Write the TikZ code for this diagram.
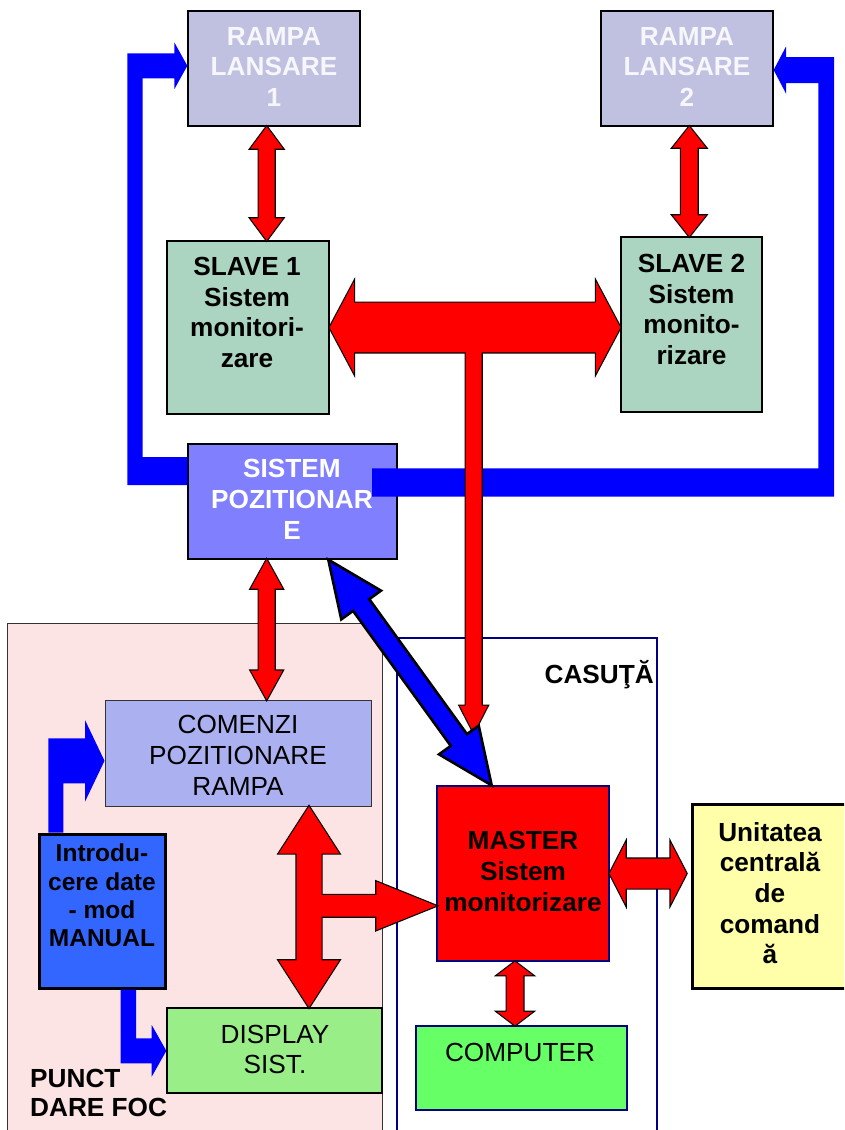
\documentclass[tikz,border=0pt]{standalone}
\usepackage{fontspec}
\setmainfont{Liberation Sans}
\usetikzlibrary{calc}

\definecolor{rampafill}{HTML}{C0C0E0}
\definecolor{rampatext}{HTML}{F6F6FB}
\definecolor{slavefill}{HTML}{ABD5C1}
\definecolor{sistemfill}{HTML}{8080FF}
\definecolor{punctfill}{HTML}{FDE4E4}
\definecolor{comenzifill}{HTML}{ABB1F0}
\definecolor{introfill}{HTML}{3366FF}
\definecolor{displayfill}{HTML}{99EE88}
\definecolor{compfill}{HTML}{66FF66}
\definecolor{unitfill}{HTML}{FFFFAA}
\definecolor{casnavy}{HTML}{000080}

\newcommand\fatdbl[6]{%
  \coordinate (fa) at ($(#2)!#6!(#3)$);
  \coordinate (fb) at ($(#3)!#6!(#2)$);
  \path[#1] (#2) -- ($(fa)!#5!90:(#3)$) -- ($(fa)!#4!90:(#3)$) -- ($(fb)!#4!-90:(#2)$) -- ($(fb)!#5!-90:(#2)$) -- (#3)
    -- ($(fb)!#5!90:(#2)$) -- ($(fb)!#4!90:(#2)$) -- ($(fa)!#4!-90:(#3)$) -- ($(fa)!#5!-90:(#3)$) -- cycle;}
\newcommand\fatone[6]{%
  \coordinate (fb) at ($(#3)!#6!(#2)$);
  \path[#1] ($(#2)!#4!90:(#3)$) -- ($(fb)!#4!-90:(#2)$) -- ($(fb)!#5!-90:(#2)$) -- (#3)
    -- ($(fb)!#5!90:(#2)$) -- ($(fb)!#4!90:(#2)$) -- ($(#2)!#4!-90:(#3)$) -- cycle;}

\begin{document}
\begin{tikzpicture}[x=1pt, y=-1pt, every node/.style={inner sep=0pt},
	cellbox/.style={draw, line width=1.3pt},
	heavybox/.style={draw, line width=3pt},
	boldtxt/.style={font=\fontsize{26.2}{30.7}\selectfont\bfseries, align=center, anchor=north},
	normtxt/.style={font=\fontsize{26.2}{30.7}\selectfont, align=center, anchor=north},
	redrim/.style={draw=black, line width=2.4pt, line join=miter, fill=red},
	redfill/.style={fill=red},
	bluebar/.style={fill=blue},
	bluerim/.style={draw=black, line width=2.6pt, line join=miter, fill=blue}]
	\clip (0,0) rectangle (844,1130);
	\fill[white] (0,0) rectangle (844,1130);
	\node[draw=black!80, line width=1pt, fill=punctfill, minimum width=375pt, minimum height=517pt] (punct) at (194.5,881.5) {};
	\node[draw=casnavy, line width=1.3pt, minimum width=260pt, minimum height=502pt] (casuta) at (527,889) {};
	\node[cellbox, fill=rampafill, minimum width=172pt, minimum height=115pt] (rampaA) at (274,68.5) {};
	\node[cellbox, fill=rampafill, minimum width=172pt, minimum height=115pt] (rampaB) at (687,68.5) {};
	\node[cellbox, fill=slavefill, minimum width=162pt, minimum height=173pt] (slaveA) at (248,327.5) {};
	\node[cellbox, fill=slavefill, minimum width=141pt, minimum height=175pt] (slaveB) at (691.5,324.5) {};
	\node[cellbox, fill=sistemfill, minimum width=209pt, minimum height=115pt] (sistem) at (292.5,501.5) {};
	\node[draw=black!80, line width=1pt, fill=comenzifill, minimum width=266pt, minimum height=106pt] (comenzi) at (238,753) {};
	\node[heavybox, fill=introfill, minimum width=126pt, minimum height=154pt] (introd) at (102,911) {};
	\node[cellbox, fill=displayfill, minimum width=215pt, minimum height=85pt] (display) at (274.5,1050.5) {};
	\node[cellbox, draw=casnavy, fill=red, minimum width=172pt, minimum height=175pt] (master) at (523,873.5) {};
	\node[cellbox, draw=casnavy, fill=compfill, minimum width=211pt, minimum height=84pt] (computer) at (521.5,1068) {};
	\node[heavybox, fill=unitfill, minimum width=158pt, minimum height=184pt] (unitate) at (771,896) {};
	\fill[bluebar] (sistem.west |- 0,485) -- (127.3,485) -- (127.3,53.3) -- (174.3,53.3) -- (174.3,42.3) -- (rampaA.west |- 0,65.8)
		-- (174.3,89.3) -- (174.3,78.3) -- (142.7,78.3) -- (142.7,457) -- (sistem.west |- 0,457) -- cycle;
	\fill[bluebar] (372,468.3) -- (818.3,468.3) -- (818.3,83) -- (786,83) -- (786,93.5) -- (rampaB.east |- 0,70)
		-- (786,46.5) -- (786,57) -- (834,57) -- (834,496.7) -- (372,496.7) -- cycle;
	\fill[bluebar] (48.3,0 |- introd.north) -- (48.3,738.3) -- (85,738.3) -- (85,720) -- (comenzi.west |- 0,760.8)
		-- (85,801.7) -- (85,783.3) -- (63.3,783.3) -- (63.3,0 |- introd.north) -- cycle;
	\fill[bluebar] (120.7,0 |- introd.south) -- (136,0 |- introd.south) -- (136,1038.3) -- (151.7,1038.3) -- (151.7,1025)
		-- (display.west |- 0,1050.8) -- (151.7,1076.7) -- (151.7,1063.3) -- (120.7,1063.3) -- cycle;
	\node[boldtxt, text=rampatext] (rampaAtxt) at (274,26.9) {RAMPA\\LANSARE\\1};
	\node[boldtxt, text=rampatext] (rampaBtxt) at (687,26.9) {RAMPA\\LANSARE\\2};
	\node[boldtxt] (slaveAtxt) at (247,256.9) {SLAVE 1\\Sistem\\monitori-\\zare};
	\node[boldtxt] (slaveBtxt) at (691.5,253.9) {SLAVE 2\\Sistem\\monito-\\rizare};
	\node[boldtxt, text=white] (sistemtxt) at (292,459.2) {SISTEM\\POZITIONAR\\E};
	\node[normtxt] (comenzitxt) at (238,715.2) {COMENZI\\POZITIONARE\\RAMPA};
	\node[boldtxt, font=\fontsize{24.5}{28.3}\selectfont\bfseries] (introtxt) at (102,843.8) {Introdu-\\cere date\\- mod\\MANUAL};
	\node[normtxt] (displaytxt) at (275,1024.5) {DISPLAY\\SIST.};
	\node[boldtxt, align=left, anchor=north west, font=\fontsize{26.2}{29.4}\selectfont\bfseries] (puncttxt) at (30,1068.5) {PUNCT\\DARE FOC};
	\node[boldtxt, anchor=base east] (casutatxt) at (654,683.3) {CASUŢĂ};
	\node[boldtxt] (mastertxt) at (523,831.2) {MASTER\\Sistem\\monitorizare};
	\node[normtxt, anchor=base] (comptxt) at (520,1061.7) {COMPUTER};
	\node[boldtxt] (unittxt) at (770,821.9) {Unitatea\\centrală\\de\\comand\\ă};
	\coordinate (stemtop) at (473.7,0 |- slaveA.east);
	\coordinate (stemtip) at (473.7,733);
	\coordinate (crossmid) at (309,905.8);
	\coordinate (unittip) at ($(unitate.west |- master.east)+(-4,0)$);
	\fatdbl{redrim}{266.7,0 |- rampaA.south}{266.7,0 |- slaveA.north}{8pt}{16.3pt}{22pt}
	\fatdbl{redrim}{689.3,0 |- rampaB.south}{689.3,0 |- slaveB.north}{8.3pt}{16.7pt}{21pt}
	\fatdbl{redrim}{slaveA.east}{slaveB.west |- slaveA.east}{24.8pt}{45.7pt}{24.3pt}
	\fatone{redrim}{stemtop}{stemtip}{8pt}{14pt}{27.3pt}
	\fatdbl{redrim}{266.7,0 |- sistem.south}{266.7,0 |- comenzi.north}{8pt}{16pt}{29pt}
	\fatdbl{redrim}{309,0 |- comenzi.south}{309,0 |- display.north}{12.5pt}{30.3pt}{47pt}
	\fatone{redrim}{crossmid}{master.west |- crossmid}{10.8pt}{24.2pt}{60pt}
	\fatdbl{redrim}{master.east}{unittip}{15pt}{31pt}{16pt}
	\fatdbl{redrim}{515,0 |- master.south}{515,0 |- computer.north}{8.3pt}{17.7pt}{13.5pt}
	\fatdbl{redfill}{266.7,0 |- rampaA.south}{266.7,0 |- slaveA.north}{8pt}{16.3pt}{22pt}
	\fatdbl{redfill}{689.3,0 |- rampaB.south}{689.3,0 |- slaveB.north}{8.3pt}{16.7pt}{21pt}
	\fatdbl{redfill}{slaveA.east}{slaveB.west |- slaveA.east}{24.8pt}{45.7pt}{24.3pt}
	\fatone{redfill}{stemtop}{stemtip}{8pt}{14pt}{27.3pt}
	\fatdbl{redfill}{266.7,0 |- sistem.south}{266.7,0 |- comenzi.north}{8pt}{16pt}{29pt}
	\fatdbl{redfill}{309,0 |- comenzi.south}{309,0 |- display.north}{12.5pt}{30.3pt}{47pt}
	\fatone{redfill}{crossmid}{master.west |- crossmid}{10.8pt}{24.2pt}{60pt}
	\fatdbl{redfill}{master.east}{unittip}{15pt}{31pt}{16pt}
	\fatdbl{redfill}{515,0 |- master.south}{515,0 |- computer.north}{8.3pt}{17.7pt}{13.5pt}
	\fatdbl{bluerim}{328.3,0 |- sistem.south}{491.7,0 |- master.north}{10pt}{24.5pt}{56pt}
\end{tikzpicture}
\end{document}
